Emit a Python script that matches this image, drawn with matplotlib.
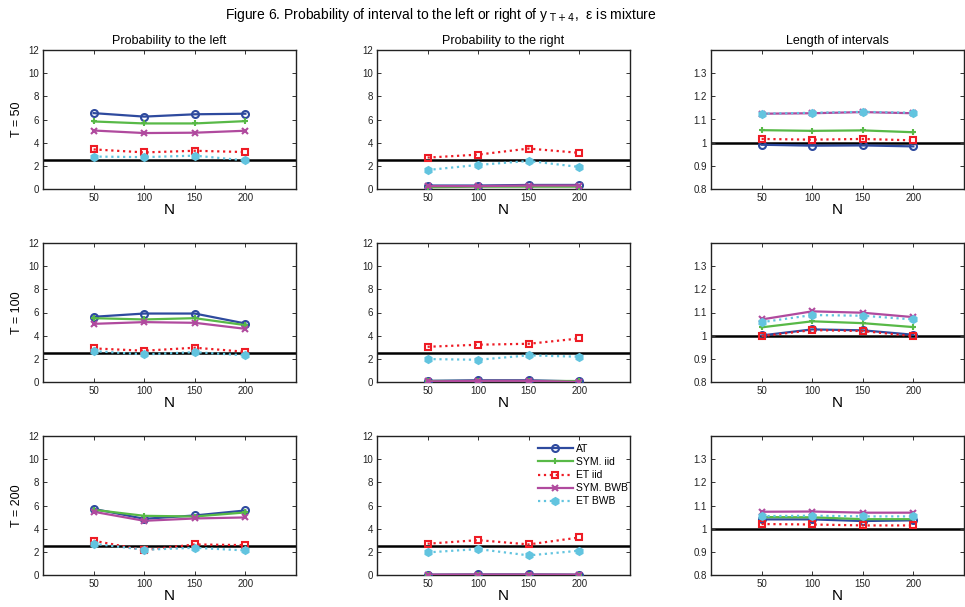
import numpy as np
import matplotlib
matplotlib.use("Agg")
import matplotlib.pyplot as plt

plt.rcParams["font.family"] = ["Liberation Sans Narrow", "Liberation Sans", "DejaVu Sans"]
plt.rcParams["mathtext.fontset"] = "custom"
plt.rcParams["mathtext.rm"] = "Liberation Sans Narrow"
plt.rcParams["mathtext.it"] = "Liberation Sans Narrow"

N = [50, 100, 150, 200]
methods = ["AT", "SYM. iid", "ET iid", "SYM. BWB", "ET BWB"]
row_labels = ["T = 50", "T = 100", "T = 200"]
col_titles = ["Probability to the left", "Probability to the right", "Length of intervals"]

# T = 50
left_50 = [[6.55, 6.25, 6.45, 6.5], [5.83, 5.66, 5.66, 5.86], [3.42, 3.16, 3.3, 3.19],
           [5.05, 4.83, 4.86, 5.03], [2.8, 2.75, 2.88, 2.47]]
right_50 = [[0.3, 0.3, 0.35, 0.35], [0.15, 0.2, 0.2, 0.2], [2.71, 2.97, 3.49, 3.12],
            [0.25, 0.25, 0.3, 0.3], [1.64, 2.08, 2.42, 1.9]]
length_50 = [[0.991, 0.987, 0.988, 0.984], [1.054, 1.051, 1.053, 1.045], [1.016, 1.013, 1.016, 1.01],
             [1.125, 1.127, 1.132, 1.127], [1.125, 1.129, 1.133, 1.129]]
# T = 100
left_100 = [[5.63, 5.91, 5.91, 5.05], [5.51, 5.4, 5.51, 4.91], [2.9, 2.7, 2.96, 2.61],
            [5.02, 5.17, 5.11, 4.59], [2.67, 2.38, 2.58, 2.3]]
right_100 = [[0.1, 0.15, 0.15, 0.05], [0.05, 0.05, 0.05, 0.05], [3.04, 3.22, 3.3, 3.76],
             [0.05, 0.1, 0.1, 0.0], [1.98, 1.92, 2.3, 2.18]]
length_100 = [[1.001, 1.027, 1.023, 1.004], [1.036, 1.062, 1.054, 1.037], [0.998, 1.024, 1.02, 0.998],
              [1.07, 1.105, 1.099, 1.08], [1.058, 1.089, 1.086, 1.07]]
# T = 200
left_200 = [[5.71, 4.85, 5.14, 5.57], [5.63, 5.11, 5.05, 5.4], [2.96, 2.15, 2.64, 2.58],
            [5.46, 4.68, 4.88, 4.97], [2.7, 2.18, 2.35, 2.12]]
right_200 = [[0.03, 0.05, 0.05, 0.03], [0.02, 0.02, 0.02, 0.02], [2.7, 3.01, 2.64, 3.24],
             [0.03, 0.04, 0.04, 0.03], [1.95, 2.24, 1.69, 2.1]]
length_200 = [[1.04, 1.04, 1.033, 1.036], [1.05, 1.049, 1.041, 1.041], [1.02, 1.018, 1.014, 1.014],
              [1.073, 1.074, 1.069, 1.069], [1.054, 1.056, 1.053, 1.053]]

grid = [[left_50, right_50, length_50], [left_100, right_100, length_100], [left_200, right_200, length_200]]
ref_lines = [2.5, 2.5, 1.0]

styles = [dict(color="#2E4A9E", ls="-", marker="o", mfc="none"),
          dict(color="#58B947", ls="-", marker="+"),
          dict(color="#EE1C25", ls=":", marker="s", mfc="none"),
          dict(color="#B04A9E", ls="-", marker="x"),
          dict(color="#62C4DF", ls=":", marker="h")]

W, H = 965, 607
fig = plt.figure(figsize=(W / 100, H / 100), dpi=100)
lefts = [43, 377, 711]
tops = [50, 243, 436]
aw, ah = 253, 139

for r in range(3):
    for c in range(3):
        ax = fig.add_axes([lefts[c] / W, 1 - (tops[r] + ah) / H, aw / W, ah / H])
        ax.axhline(ref_lines[c], color="black", lw=1.8, zorder=1)
        for k, name in enumerate(methods):
            st = styles[k]
            ax.plot(N, grid[r][c][k], color=st["color"], ls=st["ls"], marker=st["marker"],
                    mfc=st.get("mfc", st["color"]), mec=st["color"], ms=5, mew=1.5, lw=1.6,
                    label=name, zorder=3)
        ax.set_xlim(0, 250)
        ax.set_xticks(N)
        if c == 2:
            ax.set_ylim(0.8, 1.4)
            ax.set_yticks([0.8, 0.9, 1.0, 1.1, 1.2, 1.3])
            ax.set_yticklabels(["0.8", "0.9", "1", "1.1", "1.2", "1.3"])
        else:
            ax.set_ylim(0, 12)
            ax.set_yticks(range(0, 13, 2))
        ax.tick_params(direction="in", top=True, right=True, labelsize=7, length=3, width=0.7, pad=3,
                       colors="#333333", labelcolor="#222222")
        for sp in ax.spines.values():
            sp.set_linewidth(1.0)
            sp.set_color("#222222")
        ax.set_xlabel("N", fontsize=11, labelpad=0)
        if r == 0:
            ax.set_title(col_titles[c], fontsize=9, pad=4)
        if c == 0:
            ax.set_ylabel(row_labels[r], fontsize=9, labelpad=4)
        if r == 2 and c == 1:
            ax.legend(loc="upper left", bbox_to_anchor=(0.625, 0.965), frameon=False,
                      prop={"size": 7.5}, handlelength=3.3, labelspacing=0.3,
                      borderaxespad=0, borderpad=0.3, handletextpad=0.3)

fig.text(0.457, 0.975, r"Figure 6. Probability of interval to the left or right of y$_{\ \mathrm{T+4}}$,  ε is mixture",
         ha="center", va="center", fontsize=10)

fig.savefig("out.png", dpi=100)
